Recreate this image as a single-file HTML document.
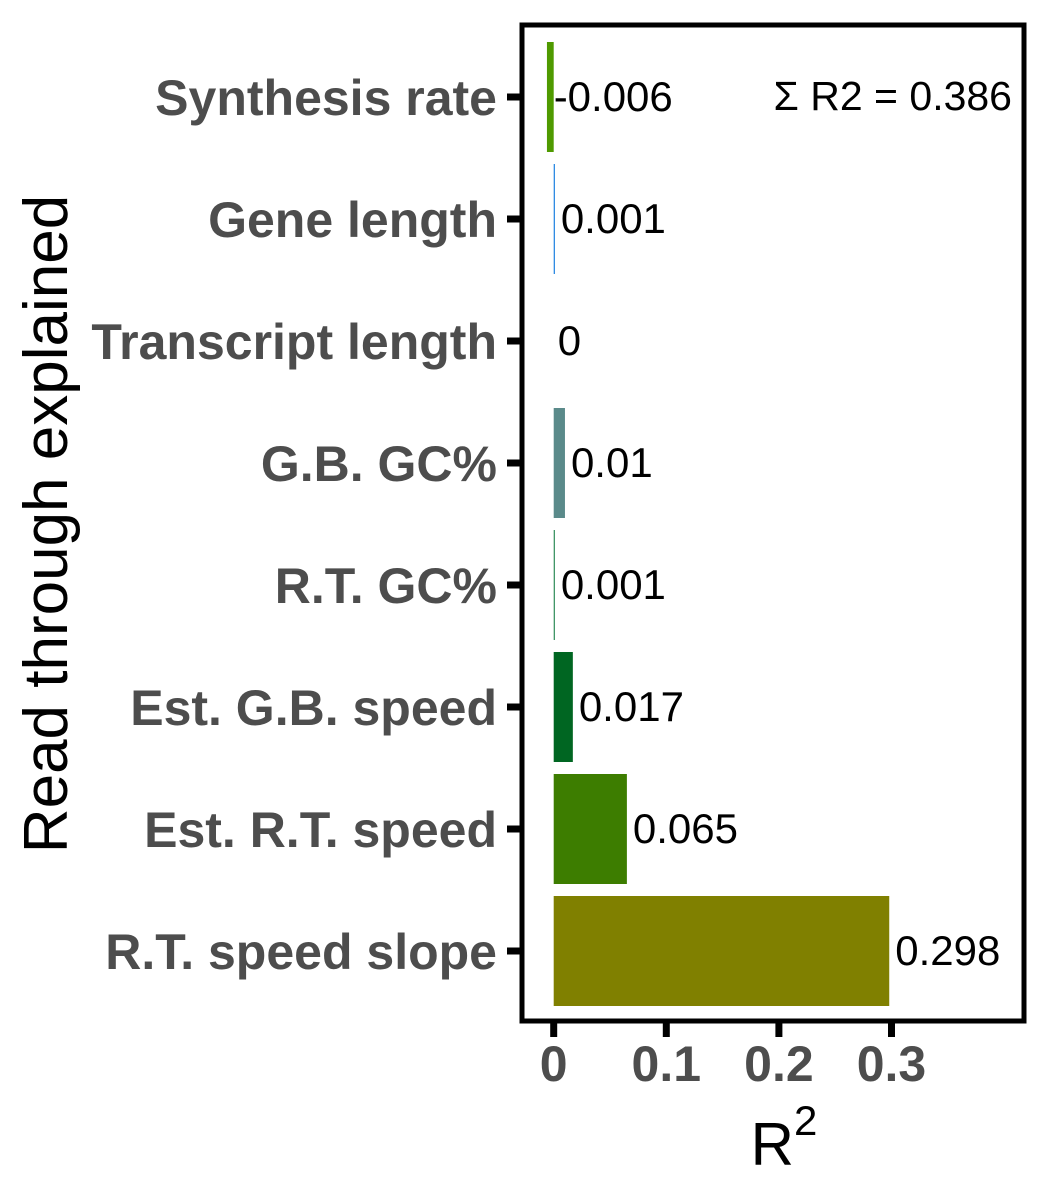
<!DOCTYPE html>
<html><head><meta charset="utf-8"><style>
html,body{margin:0;padding:0;background:#fff;}
svg{display:block;font-family:"Liberation Sans",sans-serif;}
</style></head><body>
<svg id="chart" width="1050" height="1200">
<text x="1012" y="110" text-anchor="end" font-size="41" fill="#000">Σ R2 = 0.386</text>
<text transform="translate(67,524) rotate(-90)" text-anchor="middle" font-size="62" fill="#000">Read through explained</text>
<text x="784" y="1165" text-anchor="middle" font-size="60" fill="#000">R<tspan dy="-30" font-size="42">2</tspan></text>
<g id="bars"></g>
<rect x="522" y="25" width="502" height="996" fill="none" stroke="#000" stroke-width="5"/>
</svg>
<script>
const categories=["Synthesis rate","Gene length","Transcript length","G.B. GC%","R.T. GC%","Est. G.B. speed","Est. R.T. speed","R.T. speed slope"];
const values=[-0.006,0.001,0,0.01,0.001,0.017,0.065,0.298];
const labels=["-0.006","0.001","0","0.01","0.001","0.017","0.065","0.298"];
const colors=["#4f9a00","#1a7fe0","#888888","#5a8a8a","#2e8b57","#006622","#3d7d00","#808000"];
const xTicks=[0,0.1,0.2,0.3];
const xTickLabels=["0","0.1","0.2","0.3"];
const NS="http://www.w3.org/2000/svg";
const svg=document.getElementById('chart');
const g=document.getElementById('bars');
const x=v=>553.7+v*1126;
const y=i=>97+i*122;
const bh=110;
function mk(tag,attrs,parent){const e=document.createElementNS(NS,tag);for(const k in attrs)e.setAttribute(k,attrs[k]);(parent||svg).appendChild(e);return e;}
categories.forEach((c,i)=>{
  const v=values[i];
  const x0=Math.min(x(0),x(v)),w=Math.max(Math.abs(x(v)-x(0)),v!==0?1.2:0);
  if(v!==0){
    const r=mk('rect',{x:x0,y:y(i)-bh/2,width:w,height:bh,fill:colors[i]},g);
    
    
  }
  const tx=(v<0?x(0):x(v))+(v<0?0:6);
  const t=mk('text',{x:tx+(v===0?-2:0),y:y(i)+14,'font-size':42,fill:'#000'});
  t.textContent=labels[i];
  
  
  const tk=mk('line',{x1:507,x2:520,y1:y(i),y2:y(i),stroke:'#000','stroke-width':7});
  
  
  const lb=mk('text',{x:497,y:y(i)+18,'text-anchor':'end','font-size':50,'font-weight':'bold',fill:'#4d4d4d'});
  lb.textContent=c;
  
  
});
xTicks.forEach((v,i)=>{
  const tk=mk('line',{x1:x(v),x2:x(v),y1:1023,y2:1037,stroke:'#000','stroke-width':7});
  
  
  const lb=mk('text',{x:x(v),y:1081,'text-anchor':'middle','font-size':50,'font-weight':'bold',fill:'#4d4d4d'});
  lb.textContent=xTickLabels[i];
  
  
});
</script>
</body></html>
